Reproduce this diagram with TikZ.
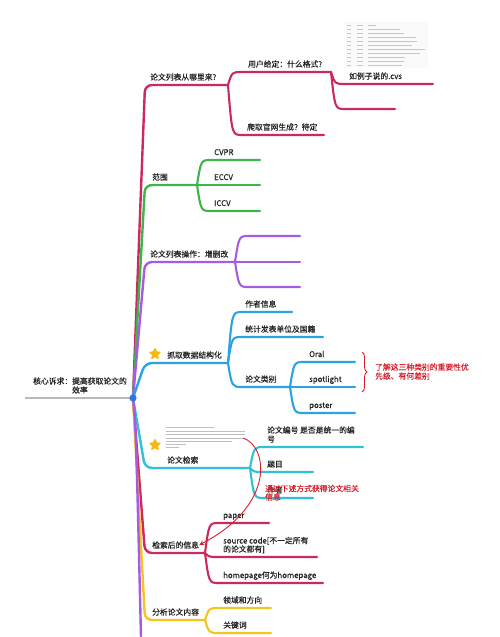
\documentclass[tikz,border=0pt]{standalone}
\usepackage{fontspec}
\setmainfont{Noto Sans CJK SC}[FakeBold=0.5]
\usetikzlibrary{shapes.geometric,decorations.pathreplacing,arrows.meta,calc}
\definecolor{cCrim}{HTML}{CC2A5E}
\definecolor{cGreen}{HTML}{3DB54A}
\definecolor{cPurp}{HTML}{A65BE2}
\definecolor{cBlue}{HTML}{2AA3E2}
\definecolor{cCyan}{HTML}{2EC2D6}
\definecolor{cYel}{HTML}{F4C51E}
\definecolor{cStar}{HTML}{F5B90F}
\definecolor{cRed}{HTML}{D4202C}
\definecolor{cDot}{HTML}{2A78E0}
\definecolor{cTxt}{HTML}{222222}
\newcommand\forkto[3]{\draw[sub,#1] (#2) .. controls ($(#2|-#3)+(4,0)$) .. ($(#2|-#3)+(14,0)$) -- (#3);}
\begin{document}
\begin{tikzpicture}[x=1pt,y=-1pt,
  lbl/.style={anchor=base west, inner sep=0, text=cTxt, font=\fontsize{7.8}{9}\selectfont},
  rlbl/.style={lbl, text=cRed},
  br/.style={line width=2.4pt, line cap=round, rounded corners=7pt},
  sub/.style={line width=2.1pt, line cap=round},
  starnode/.style={star, star points=5, star point ratio=2.0, fill=cStar, draw=cStar, line join=round, line width=1pt, minimum size=11pt, inner sep=0pt},
  ghost/.style={line width=0.45pt, gray!45}]
\useasboundingbox (0,0) rectangle (500,637);

% ---------- coordinates ----------
\coordinate (R) at (133,398);
\coordinate (G) at (25,398);
% branch ends / forks
\coordinate (b1) at (228,85);
\coordinate (b2) at (197,185);
\coordinate (b3) at (235,262);
\coordinate (b4) at (228,363);
\coordinate (b5) at (250,468);
\coordinate (b6) at (205,553);
\coordinate (b7) at (205,620);
\coordinate (b8) at (141,637);
% children
\coordinate (c11) at (331,72);
\coordinate (c12) at (324,135);
\coordinate (c111) at (433,84);
\coordinate (c112) at (395,109);
\coordinate (c21) at (260,160);
\coordinate (c22) at (260,185);
\coordinate (c23) at (260,211);
\coordinate (c31) at (300,236);
\coordinate (c32) at (300,262);
\coordinate (c33) at (300,287);
\coordinate (c41) at (292,312);
\coordinate (c42) at (323,337);
\coordinate (c43) at (290,387);
\coordinate (c431) at (355,362);
\coordinate (c432) at (355,387);
\coordinate (c433) at (355,413);
\coordinate (c51) at (363,447);
\coordinate (c52) at (313,472);
\coordinate (c53) at (313,498);
\coordinate (c61) at (269,523);
\coordinate (c62) at (317,557);
\coordinate (c63) at (323,583);
\coordinate (c71) at (271,608);
\coordinate (c72) at (271,633);

% ---------- root ----------
\draw[line width=2pt, gray!55] (G) -- (R);
\node[lbl] (rt1) at (33,384) {核心诉求：提高获取论文的};
\node[lbl] (rt2) at (72,393) {效率};

% ---------- main branches ----------
\draw[br,cCrim] (R) -- ($(R|-b1)+(12,0)$) -- (b1);
\draw[br,cGreen] (R) -- ($(R|-b2)+(12,0)$) -- (b2);
\draw[br,cPurp] (R) -- ($(R|-b3)+(12,0)$) -- (b3);
\draw[br,cBlue] (R) -- ($(R|-b4)+(12,0)$) -- (b4);
\draw[br,cCyan] (R) -- ($(R|-b5)+(12,0)$) -- (b5);
\draw[br,cCrim] (R) -- ($(R|-b6)+(12,0)$) -- (b6);
\draw[br,cYel] (R) -- ($(R|-b7)+(12,0)$) -- (b7);
\draw[line width=2.4pt,cPurp] (R) .. controls (136,430) .. (b8);

% ---------- branch 1 ----------
\node[lbl] (l1) at (150,80) {论文列表从哪里来?};
\forkto{cCrim}{b1}{c11}
\forkto{cCrim}{b1}{c12}
\node[lbl] (l11) at (248,67) {用户给定：什么格式?};
\node[lbl] (l12) at (247,130) {爬取官网生成？待定};
\forkto{cCrim}{c11}{c111}
\forkto{cCrim}{c11}{c112}
\node[lbl] (l111) at (349,79) {如例子说的.cvs};
% small table picture
\fill[gray!4] (344,22) rectangle (428,68);
\foreach \yy/\ee [count=\i] in {25/376,29.5/400,33.5/404,37.5/416,41.5/417,45.5/412,49.5/425,53.5/420,57.5/405,61.5/404,65.5/402}{
  \draw[ghost] (347,\yy) -- (351,\yy);
  \draw[ghost] (357,\yy) -- (363,\yy);
  \draw[ghost] (368,\yy) -- (\ee,\yy);
}

% ---------- branch 2 ----------
\node[lbl] (l2) at (152,180) {范围};
\forkto{cGreen}{b2}{c21}
\draw[sub,cGreen] (b2) -- (c22);
\forkto{cGreen}{b2}{c23}
\node[lbl] (l21) at (214,155) {CVPR};
\node[lbl] (l22) at (214,180) {ECCV};
\node[lbl] (l23) at (214,206) {ICCV};

% ---------- branch 3 ----------
\node[lbl] (l3) at (150,257) {论文列表操作：增删改};
\forkto{cPurp}{b3}{c31}
\draw[sub,cPurp] (b3) -- (c32);
\forkto{cPurp}{b3}{c33}

% ---------- branch 4 ----------
\node[starnode] (s1) at (155,354) {};
\node[lbl] (l4) at (167,358) {抓取数据结构化};
\forkto{cBlue}{b4}{c41}
\forkto{cBlue}{b4}{c42}
\forkto{cBlue}{b4}{c43}
\node[lbl] (l41) at (245,307) {作者信息};
\node[lbl] (l42) at (245,332) {统计发表单位及国籍};
\node[lbl] (l43) at (245,382) {论文类别};
\forkto{cBlue}{c43}{c431}
\draw[sub,cBlue] (c43) -- (c432);
\forkto{cBlue}{c43}{c433}
\node[lbl] (l431) at (309,357) {Oral};
\node[lbl] (l432) at (309,382) {spotlight};
\node[lbl] (l433) at (309,408) {poster};
\draw[cRed, line width=0.9pt, decorate, decoration={brace, amplitude=5pt}] (362,352) -- (362,392);
\node[rlbl] (n1a) at (375,370) {了解这三种类别的重要性优};
\node[rlbl] (n1b) at (375,379) {先级、有何差别};

% ---------- branch 5 ----------
\node[starnode] (s2) at (155,445) {};
\foreach \yy/\ee in {427/214,431/245,434.5/245,438/244,441/232,444/186,447/179}{
  \draw[line width=0.4pt, gray!50] (166,\yy) -- (\ee,\yy);
}
\node[lbl] (l5) at (167,463) {论文检索};
\forkto{cCyan}{b5}{c51}
\forkto{cCyan}{b5}{c52}
\forkto{cCyan}{b5}{c53}
\node[lbl] (l51a) at (267,433) {论文编号 是否是统一的编};
\node[lbl] (l51b) at (267,442) {号};
\node[lbl] (l52) at (267,467) {题目};
\node[lbl] (l53) at (267,493) {作者};
\node[rlbl] (n2a) at (265,491.5) {通过下述方式获得论文相关};
\node[rlbl] (n2b) at (265,500) {信息};

% ---------- branch 6 ----------
\node[lbl] (l6) at (152,548) {检索后的信息};
\forkto{cCrim}{b6}{c61}
\forkto{cCrim}{b6}{c62}
\forkto{cCrim}{b6}{c63}
\node[lbl] (l61) at (223,518) {paper};
\node[lbl] (l62a) at (223,543.5) {source code[不一定所有};
\node[lbl] (l62b) at (223,552) {的论文都有]};
\node[lbl] (l63) at (223,578) {homepage何为homepage};

% red curved arrow
\coordinate (aS) at (243,438);
\draw[cRed, line width=0.9pt, -{Stealth[open, length=5pt, width=5pt]}] (aS) .. controls (268,446) and (276,505) .. (l6.east);

% ---------- branch 7 ----------
\node[lbl] (l7) at (152,615) {分析论文内容};
\forkto{cYel}{b7}{c71}
\forkto{cYel}{b7}{c72}
\node[lbl] (l71) at (223,603) {领域和方向};
\node[lbl] (l72) at (223,628) {关键词};

% root dot
\fill[cDot] (R) circle (3.6);
\end{tikzpicture}
\end{document}
